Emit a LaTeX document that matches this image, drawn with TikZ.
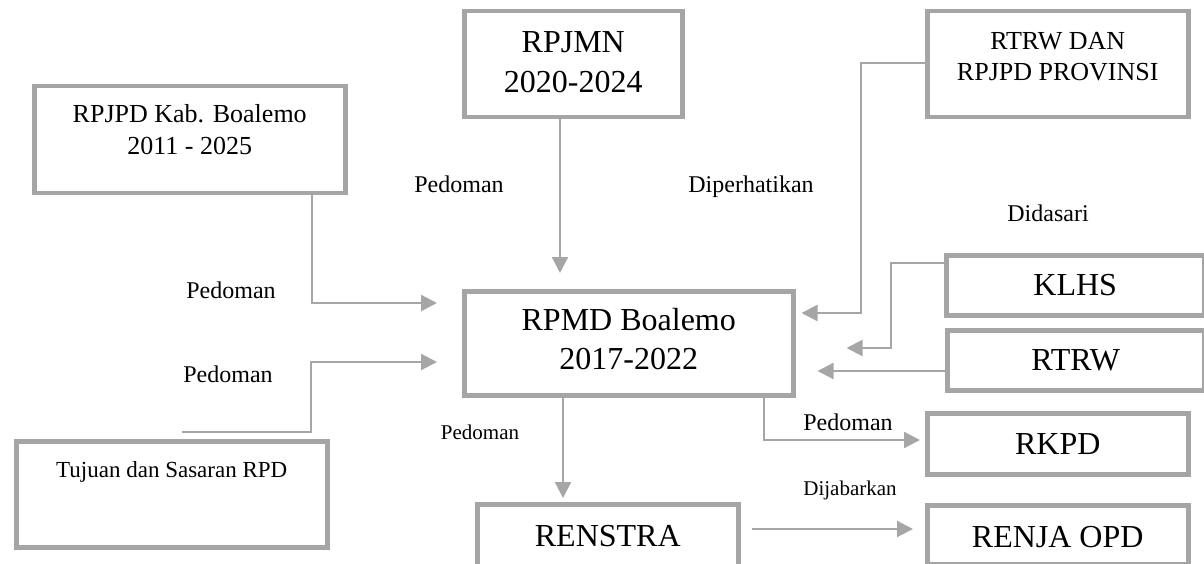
\documentclass[tikz,border=0pt]{standalone}
\usepackage{fontspec}
\setmainfont{Liberation Serif}
\usetikzlibrary{arrows.meta,calc}
\definecolor{boxgray}{RGB}{165,165,165}
\definecolor{linegray}{RGB}{166,166,166}
% #1 width, #2 height, #3 font size, #4 leading, #5 first baseline from top, #6 text
\newcommand{\bxt}[6]{\parbox[c][#2pt][t]{#1pt}{\centering\fontsize{#3pt}{#4pt}\selectfont\rule{0pt}{#5pt}#6\par}}
\tikzset{
  box/.style={draw=boxgray, line width=4.5pt, inner sep=0pt, anchor=north west, rectangle},
  conn/.style={draw=linegray, line width=2.2pt, -{Triangle[length=16pt,width=16pt]}},
  lab/.style={anchor=base, inner sep=0pt, font=\fontsize{24pt}{28pt}\selectfont},
  smalllab/.style={lab, font=\fontsize{21pt}{25pt}\selectfont}
}
\begin{document}
\begin{tikzpicture}[x=1pt,y=-1pt]
\useasboundingbox (0,0) rectangle (1204,564);
% boxes
\node[box] (rpjpd) at (32,84) {\bxt{311}{107}{26}{32}{36}{RPJPD Kab. Boalemo\\2011 - 2025}};
\node[box] (rpjmn) at (462,9) {\bxt{218}{106}{32}{40}{41}{RPJMN\\2020-2024}};
\node[box] (rtrwprov) at (925,9) {\bxt{261}{106}{26}{31}{38}{RTRW DAN\\RPJPD PROVINSI}};
\node[box] (rpmd) at (462,289) {\bxt{329}{104}{32}{39}{39}{RPMD Boalemo\\2017-2022}};
\node[box] (klhs) at (944,253) {\bxt{258}{60}{32}{39}{40}{KLHS}};
\node[box] (rtrw) at (945,328) {\bxt{257}{60}{32}{39}{40}{RTRW}};
\node[box] (rkpd) at (925,411) {\bxt{261}{61}{32}{39}{41}{RKPD}};
\node[box] (renstra) at (475,502) {\bxt{261}{66}{32}{39}{42}{RENSTRA}};
\node[box] (renja) at (925,503) {\bxt{261}{59}{32}{39}{42}{RENJA OPD}};
\node[box] (tujuan) at (14,439) {\bxt{311}{106}{23}{28}{36}{Tujuan dan Sasaran RPD}};
% connectors
\draw[conn] ($(rpjpd.south west)+(280,0)$) |- ($(rpmd.north west)+(-25,14)$);
\draw[conn] ($(tujuan.north west)+(168,-7)$) -- ++(129,0) |- ($(rpmd.north west)+(-25,73)$);
\draw[conn] ($(rpjmn.south west)+(98,0)$) -- ($(rpmd.north west)+(98,-16)$);
\draw[conn] ($(rtrwprov.north west)+(0,54)$) -- ++(-64,0) |- ($(rpmd.north east)+(6,24)$);
\draw[conn] ($(klhs.north west)+(0,10)$) -- ++(-53,0) |- ($(rpmd.north east)+(51,59)$);
\draw[conn] ($(rtrw.north west)+(0,43)$) -- ($(rpmd.north east)+(22,82)$);
\draw[conn] ($(rpmd.south west)+(101,-5)$) -- ($(renstra.north west)+(88,-4)$);
\draw[conn] ($(rpmd.south west)+(302,0)$) |- ($(rkpd.north west)+(-5,29)$);
\draw[conn] ($(renstra.north east)+(11,27)$) -- ($(renja.north west)+(-12,26)$);
% labels
\node[lab] (l1) at (231,298) {Pedoman};
\node[lab] (l2) at (228,382) {Pedoman};
\node[lab] (l3) at (459,193) {Pedoman};
\node[lab] (l4) at (751,193) {Diperhatikan};
\node[lab] (l5) at (1048,222) {Didasari};
\node[smalllab] (l6) at (480,439) {Pedoman};
\node[lab] (l7) at (848,430) {Pedoman};
\node[smalllab] (l8) at (850,495) {Dijabarkan};
\end{tikzpicture}
\end{document}
